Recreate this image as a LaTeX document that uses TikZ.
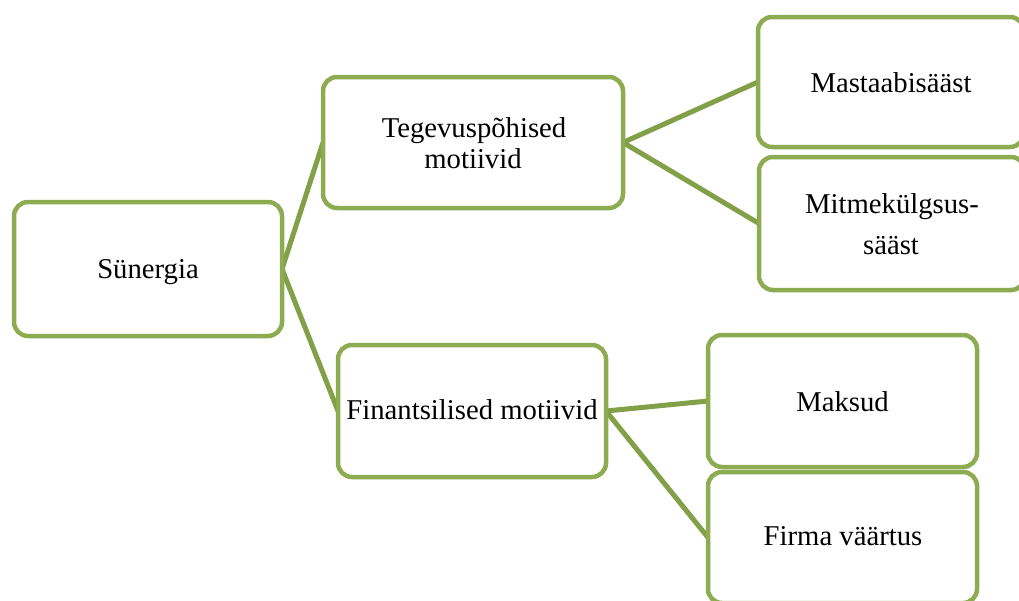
\documentclass[tikz,border=0pt]{standalone}
\usepackage{fontspec}
\setmainfont{Liberation Serif}
\usetikzlibrary{backgrounds}
\definecolor{boxgreen}{RGB}{141,171,80}
\definecolor{linkgreen}{RGB}{130,160,72}
\begin{document}
\begin{tikzpicture}[x=1pt,y=-1pt,
  box/.style={draw=boxgreen, line width=4.5pt, rounded corners=14pt, fill=white,
              inner sep=0pt, outer sep=0pt},
  txt/.style={anchor=base, inner sep=0pt, font=\fontsize{28.7}{31}\selectfont},
  link/.style={draw=linkgreen, line width=5pt}]
\useasboundingbox (0,0) rectangle (1019,600);
\clip (0,0) rectangle (1019,600);

% boxes: centre, width, height
\node[box, minimum width=268pt, minimum height=134pt] (syn) at (148,269) {};
\node[box, minimum width=300pt, minimum height=131pt] (teg) at (473,142.5) {};
\node[box, minimum width=266pt, minimum height=130pt] (mas) at (891,82) {};
\node[box, minimum width=266pt, minimum height=133pt] (mit) at (892,223.5) {};
\node[box, minimum width=268pt, minimum height=132pt] (fin) at (472,411) {};
\node[box, minimum width=269pt, minimum height=132pt] (mak) at (842.5,401) {};
\node[box, minimum width=269pt, minimum height=131pt] (fir) at (842.5,537.5) {};

% connectors between the boxes, kept behind them
\begin{scope}[on background layer]
  \draw[link] (syn.east) -- (teg.west);
  \draw[link] (syn.east) -- (fin.west);
  \draw[link] (teg.east) -- (mas.west);
  \draw[link] (teg.east) -- (mit.west);
  \draw[link] (fin.east) -- (mak.west);
  \draw[link] (fin.east) -- (fir.west);
\end{scope}

% labels
\node[txt] (syn-t) at (148,278) {Sünergia};
\node[txt] (teg-t1) at (474,137) {Tegevuspõhised};
\node[txt] (teg-t2) at (473,168) {motiivid};
\node[txt] (mas-t) at (891,92) {Mastaabisääst};
\node[txt] (mit-t1) at (892,213) {Mitmekülgsus-};
\node[txt] (mit-t2) at (891,254) {sääst};
\node[txt] (fin-t) at (472,419) {Finantsilised motiivid};
\node[txt] (mak-t) at (842.5,411) {Maksud};
\node[txt] (fir-t) at (843,545) {Firma väärtus};
\end{tikzpicture}
\end{document}
